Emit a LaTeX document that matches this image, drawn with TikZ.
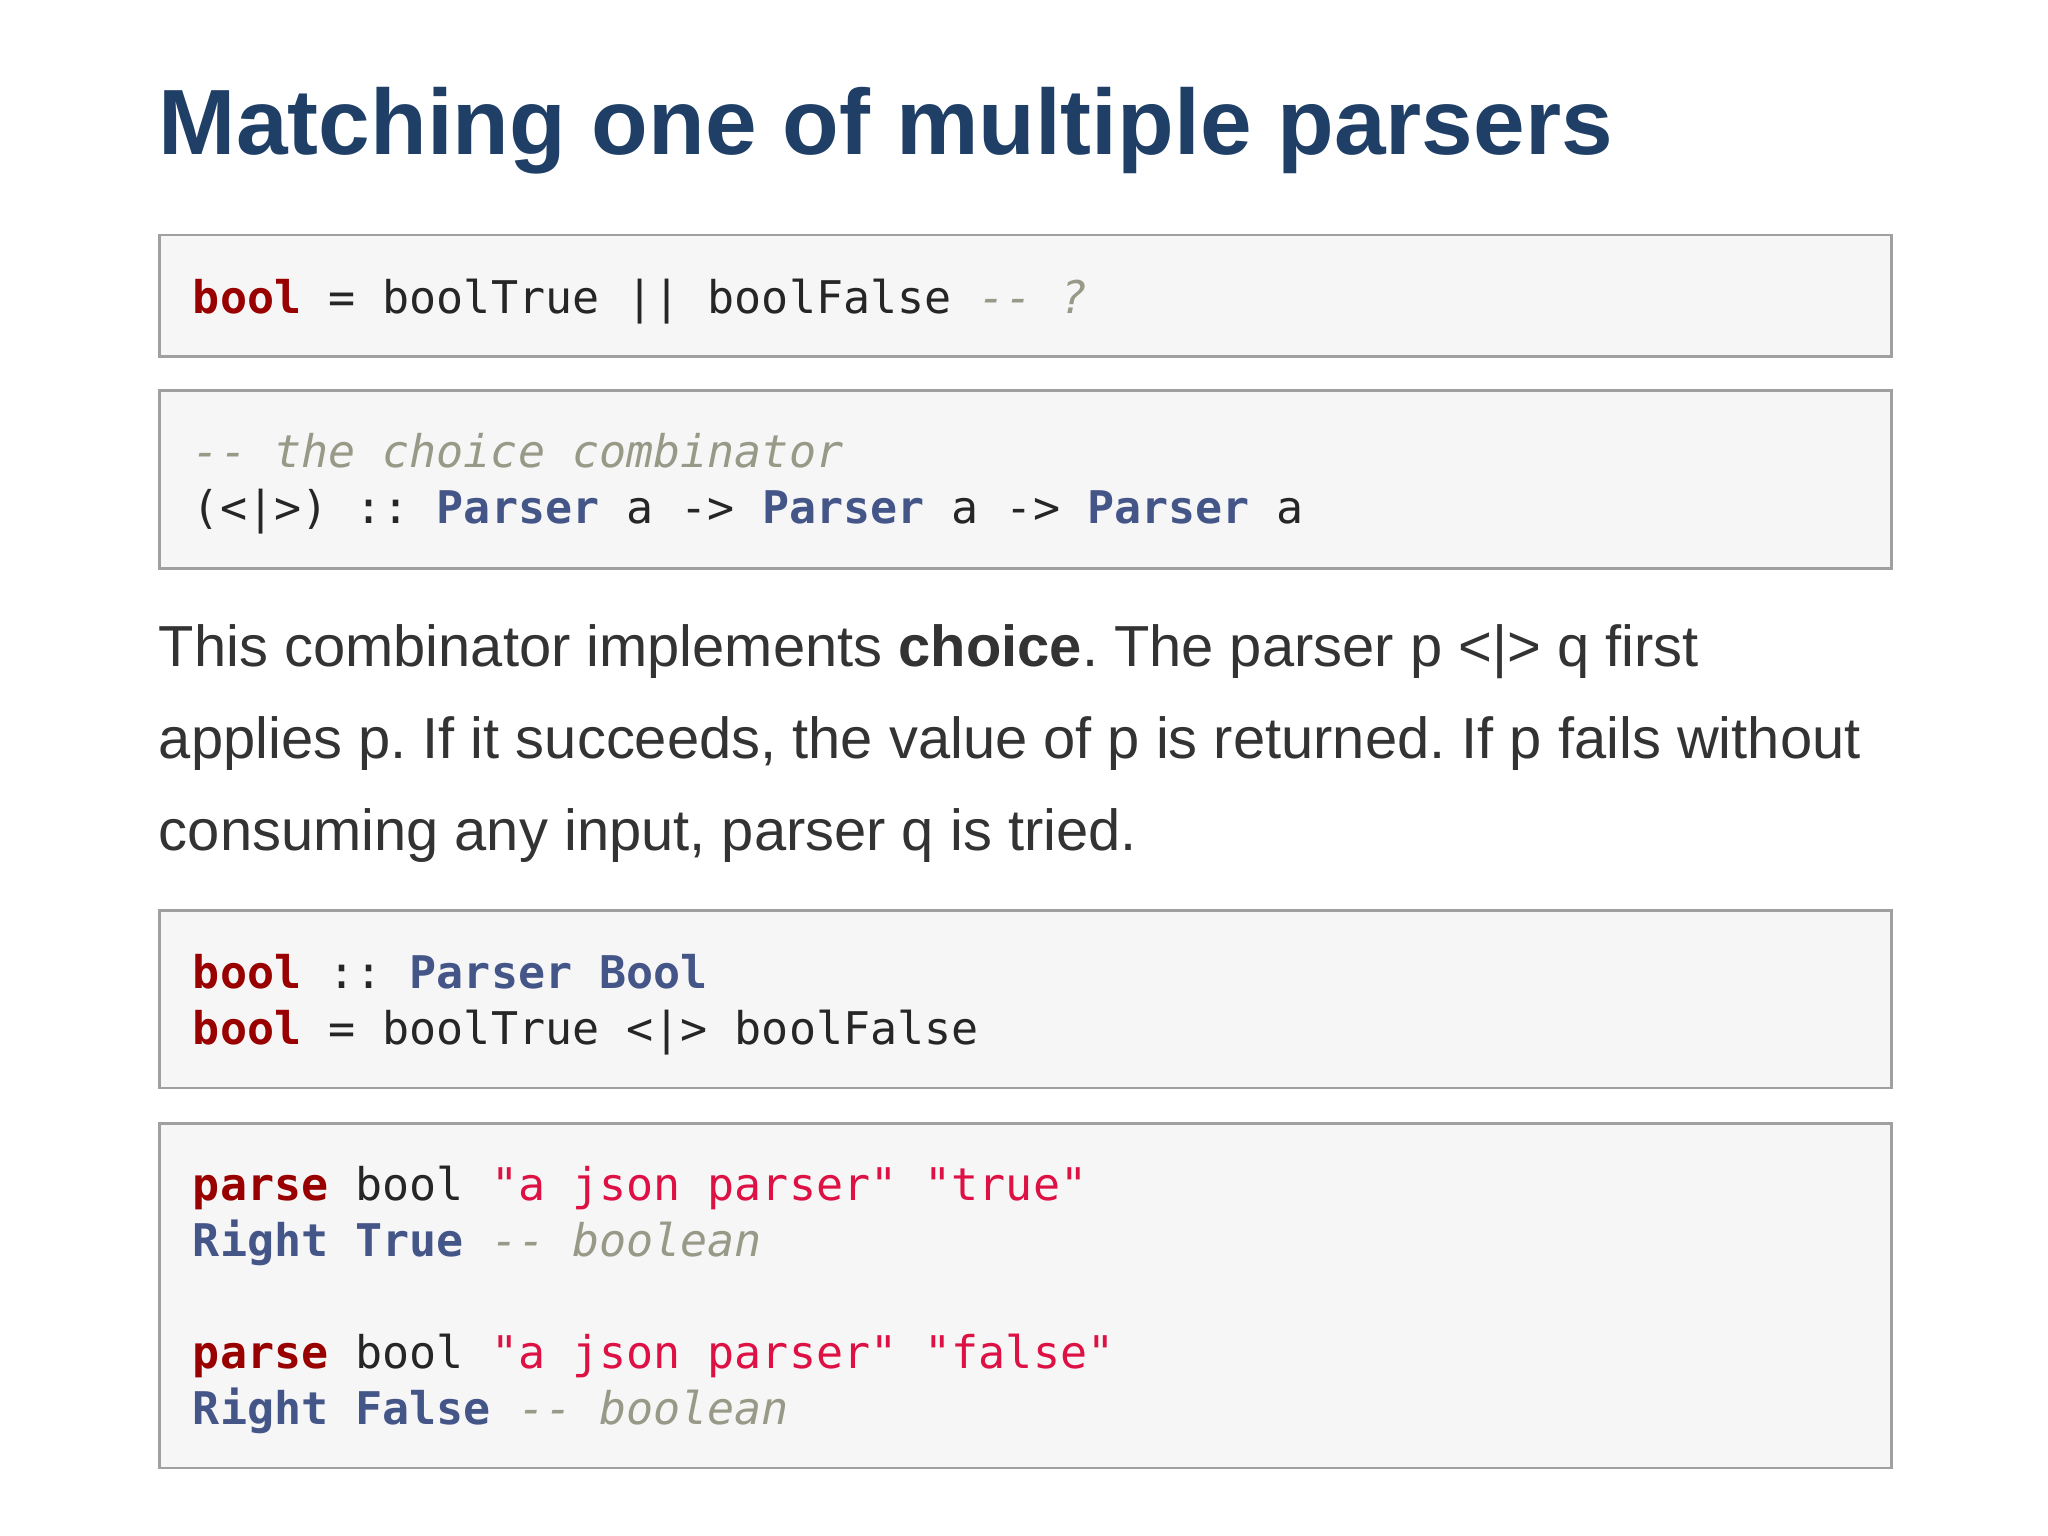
\documentclass[tikz,border=0pt]{standalone}
\usepackage{fontspec}
\setmainfont{Liberation Sans}
\setmonofont{DejaVu Sans Mono}
\usetikzlibrary{positioning}
\frenchspacing
\definecolor{titleblue}{HTML}{1F3F66}
\definecolor{bodygray}{HTML}{333333}
\definecolor{kwred}{HTML}{990000}
\definecolor{tyblue}{HTML}{445588}
\definecolor{strred}{HTML}{DD1144}
\definecolor{cmgray}{HTML}{999988}
\definecolor{boxfill}{HTML}{F6F6F7}
\definecolor{boxline}{HTML}{A0A0A0}
\newcommand{\kw}[1]{\textcolor{kwred}{\textbf{#1}}}
\newcommand{\ty}[1]{\textcolor{tyblue}{\textbf{#1}}}
\newcommand{\str}[1]{\textcolor{strred}{#1}}
\newcommand{\cm}[1]{\textcolor{cmgray}{\textit{#1}}}
\tikzset{
  codebox/.style={draw=boxline, fill=boxfill, line width=0.6pt},
  codeline/.style={anchor=base west, inner sep=0pt, font=\fontsize{9.8pt}{11pt}\ttfamily, text=black!85},
  para/.style={anchor=base west, inner sep=0pt, font=\fontsize{12.6pt}{15pt}\selectfont, text=bodygray},
}
\begin{document}
\begin{tikzpicture}[x=0.01cm,y=-0.01cm]
  \useasboundingbox[fill=white] (0,0) rectangle (1568,1176);
  % title
  \node[anchor=base west, inner sep=0pt, font=\fontsize{20.2pt}{23pt}\bfseries, text=titleblue] (title) at (121,118) {Matching one of multiple parsers};
  % first attempt
  \draw[codebox] (122,180) rectangle (1448,273);
  \node[codeline] (or) at (147,240) {\kw{bool} = boolTrue || boolFalse \cm{-{}- ?}};
  % signature
  \draw[codebox] (122,299) rectangle (1448,435);
  \node[codeline] (sigc) at (147,358) {\cm{-{}- the choice combinator}};
  \node[codeline] (sig) at (147,401) {(<|>) :: \ty{Parser} a -> \ty{Parser} a -> \ty{Parser} a};
  % explanation
  \node[para] (p1) at (121,510) {This combinator implements \textbf{choice}. The parser p <|> q first};
  \node[para] (p2) at (121,581) {applies p. If it succeeds, the value of p is returned. If p fails without};
  \node[para] (p3) at (121,651) {consuming any input, parser q is tried.};
  % definition
  \draw[codebox] (122,697) rectangle (1448,833);
  \node[codeline] (deft) at (147,757) {\kw{bool} :: \ty{Parser Bool}};
  \node[codeline] (def) at (147,800) {\kw{bool} = boolTrue <|> boolFalse};
  % examples
  \draw[codebox] (122,860) rectangle (1448,1124);
  \node[codeline] (ex1) at (147,919) {\kw{parse} bool \str{"a json parser"} \str{"true"}};
  \node[codeline] (re1) at (147,962) {\ty{Right True} \cm{-{}- boolean}};
  \node[codeline] (ex2) at (147,1048) {\kw{parse} bool \str{"a json parser"} \str{"false"}};
  \node[codeline] (re2) at (147,1091) {\ty{Right False} \cm{-{}- boolean}};
\end{tikzpicture}
\end{document}
